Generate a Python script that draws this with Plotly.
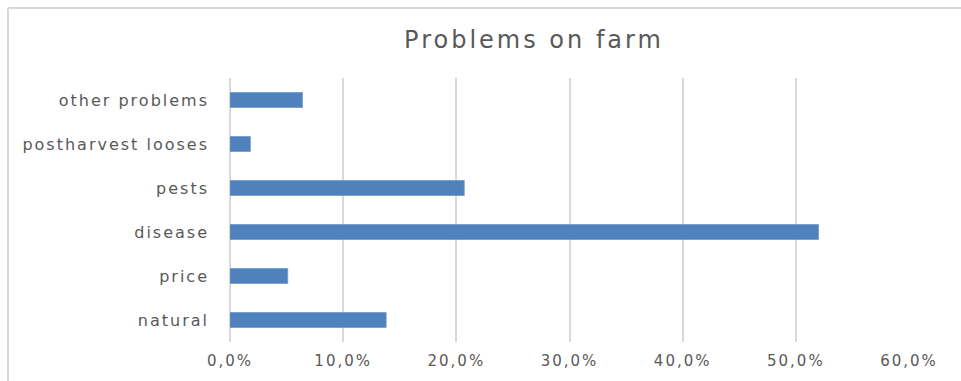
import plotly.graph_objects as go

# Share of farms reporting each problem (fraction of respondents)
categories = ["natural", "price", "disease", "pests", "postharvest looses", "other problems"]
shares = [0.138, 0.051, 0.520, 0.207, 0.018, 0.064]
tick_values = [0.0, 0.1, 0.2, 0.3, 0.4, 0.5, 0.6]

W, H = 961, 381
ML, MR, MT, MB = 230, 52, 78, 39
TEXT = "#595959"
GRID = "#d9d9d9"
FONT = "DejaVu Sans"

fig = go.Figure(
    go.Bar(
        x=shares,
        y=categories,
        orientation="h",
        marker=dict(color="#4f81bd", line=dict(color="#6f98cc", width=0.8)),
        hoverinfo="skip",
    )
)

# Chart frame: only its top and left edges fall inside the canvas
pw, ph = W - ML - MR, H - MT - MB
def px_x(v):
    return (v - ML) / pw
def px_y(v):
    return (H - MB - v) / ph

frame = dict(type="line", xref="paper", yref="paper", line=dict(color=GRID, width=2), layer="below")
fig.add_shape(x0=px_x(8), x1=px_x(W), y0=px_y(8), y1=px_y(8), **frame)
fig.add_shape(x0=px_x(8), x1=px_x(8), y0=px_y(8), y1=px_y(H), **frame)

fig.update_layout(
    width=W, height=H,
    margin=dict(l=ML, r=MR, t=MT, b=MB, pad=0),
    paper_bgcolor="white", plot_bgcolor="white",
    separators=", ",
    showlegend=False,
    bargap=0.66,
    title=dict(
        text="Problems on farm",
        font=dict(family=FONT, size=24, color=TEXT),
        xref="container", yref="container",
        x=534 / W, xanchor="center",
        y=1 - 40 / H, yanchor="middle",
    ),
    xaxis=dict(
        range=[0, 0.6],
        tickvals=tick_values,
        tickformat=".1%",
        showgrid=True, gridcolor=GRID, gridwidth=1.5,
        zeroline=True, zerolinecolor=GRID, zerolinewidth=1.5,
        showline=False,
        ticks="", ticklabelstandoff=8,
        tickfont=dict(family=FONT, size=15, color=TEXT),
        fixedrange=True,
    ),
    yaxis=dict(
        categoryorder="array", categoryarray=categories,
        showgrid=False, zeroline=False, showline=False,
        ticks="", ticklabelstandoff=20,
        tickfont=dict(family=FONT, size=16, color=TEXT),
        fixedrange=True,
    ),
)

# Widen the letter spacing of the chart texts
post = """
var gd = document.getElementsByClassName('plotly-graph-div')[0];
function spread(){
  gd.querySelectorAll('.gtitle').forEach(function(e){e.style.letterSpacing='3px';});
  gd.querySelectorAll('.xtick text').forEach(function(e){e.style.letterSpacing='2px';});
  gd.querySelectorAll('.ytick text').forEach(function(e){e.style.letterSpacing='2px';});
}
spread();
gd.on('plotly_afterplot', spread);
"""

fig.write_html("out.html", config={"displayModeBar": False, "responsive": False}, post_script=post)
